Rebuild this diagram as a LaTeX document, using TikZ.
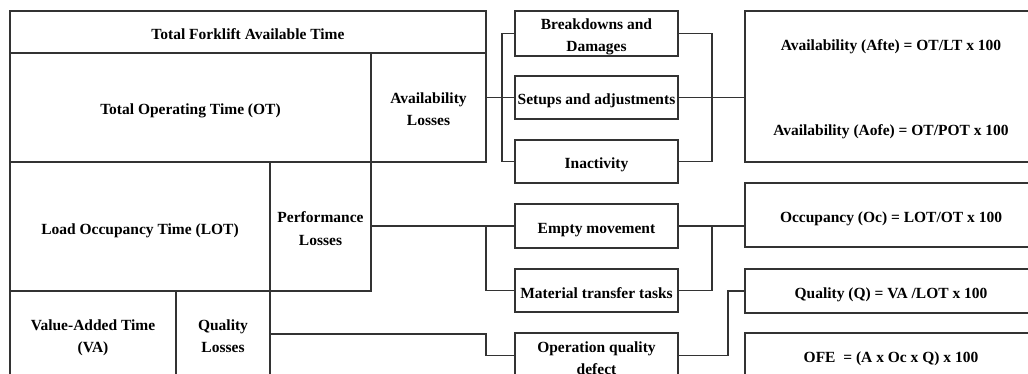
\documentclass[tikz,border=0pt]{standalone}
\usepackage{fontspec}
\setmainfont{Liberation Serif}
\newcommand\dfont{\fontsize{15.5}{22}\selectfont\bfseries}
\newcommand\topstr{\rule{0pt}{19pt}}
\newcommand\botstr{\rule[-4pt]{0pt}{4pt}}
\definecolor{linec}{HTML}{333333}
\begin{document}
\begin{tikzpicture}[x=1pt,y=-1pt,
  txt/.style={inner sep=0pt, outer sep=0pt, font=\dfont, text=black, align=center},
  cell/.style={txt, draw=linec, line width=1.1pt, rectangle, anchor=north west},
  conn/.style={draw=linec, line width=1.1pt}]
\fill[white] (0,0) rectangle (1028,374);
\useasboundingbox (0,0) rectangle (1028,374);
\clip (0,0) rectangle (1028,374);

% left block
\node[cell, minimum width=476pt, minimum height=42pt] (fork) at (10,11) {\topstr Total Forklift Available Time\botstr};
\node[cell, minimum width=361pt, minimum height=109pt] (ot) at (10,53) {\topstr Total Operating Time (OT)\botstr};
\node[cell, minimum width=115pt, minimum height=109pt] (avl) at (371,53) {\topstr Availability\\Losses\botstr};
\node[cell, minimum width=260pt, minimum height=129pt] (lot) at (10,162) {\topstr Load Occupancy Time (LOT)\botstr};
\node[cell, minimum width=101pt, minimum height=129pt] (perf) at (270,162) {\topstr Performance\\Losses\botstr};
\node[cell, minimum width=166pt, minimum height=86pt] (va) at (10,291) {\topstr Value-Added Time\\(VA)\botstr};
\node[cell, minimum width=94pt, minimum height=86pt] (ql) at (176,291) {\topstr Quality\\Losses\botstr};

% middle boxes
\node[cell, minimum width=163pt, minimum height=43pt] (bd) at (515,11) {\topstr Breakdowns and\\Damages\botstr};
\node[cell, minimum width=163pt, minimum height=43pt] (su) at (515,76) {\topstr Setups and adjustments\botstr};
\node[cell, minimum width=163pt, minimum height=43pt] (ina) at (515,140) {\topstr Inactivity\botstr};
\node[cell, minimum width=163pt, minimum height=44pt] (em) at (515,204) {\topstr Empty movement\botstr};
\node[cell, minimum width=163pt, minimum height=43pt] (mt) at (515,269) {\topstr Material transfer tasks\botstr};
\node[cell, minimum width=163pt, minimum height=44pt] (oq) at (515,333) {\topstr Operation quality\\defect\botstr};

% right boxes
\node[cell, minimum width=292pt, minimum height=151pt] (av) at (745,11) {};
\node[txt] (avt1) at (891,43) {\topstr Availability (Afte) = OT/LT x 100\botstr};
\node[txt] (avt2) at (891,128) {\topstr Availability (Aofe) = OT/POT x 100\botstr};
\node[cell, minimum width=292pt, minimum height=64pt] (oc) at (745,183) {\topstr Occupancy (Oc) = LOT/OT x 100\botstr};
\node[cell, minimum width=292pt, minimum height=44pt] (q) at (745,269) {\topstr Quality (Q) = VA /LOT x 100\botstr};
\node[cell, minimum width=292pt, minimum height=44pt] (ofe) at (745,333) {\topstr OFE\ \ = (A x Oc x Q) x 100\botstr};

% availability connectors
\draw[conn] (avl.east |- su.west) -- (su.west);
\draw[conn] (bd.west) -- ++(-13,0) |- (ina.west);
\draw[conn] (bd.east) -- ++(34,0) |- (ina.east);
\draw[conn] (su.east) -- (su.east -| av.west);

% performance connectors
\draw[conn] (perf.east |- em.west) -- (em.west);
\draw[conn] ([xshift=-29pt]em.west) |- (mt.west);
\draw[conn] (em.east) -- (em.east -| oc.west);
\draw[conn] ([xshift=34pt]em.east) |- (mt.east);

% quality connectors
\draw[conn] (ql.east) -- ++(216,0) |- (oq.west);
\draw[conn] (oq.east) -- ++(50,0) |- (q.west);
\end{tikzpicture}
\end{document}
